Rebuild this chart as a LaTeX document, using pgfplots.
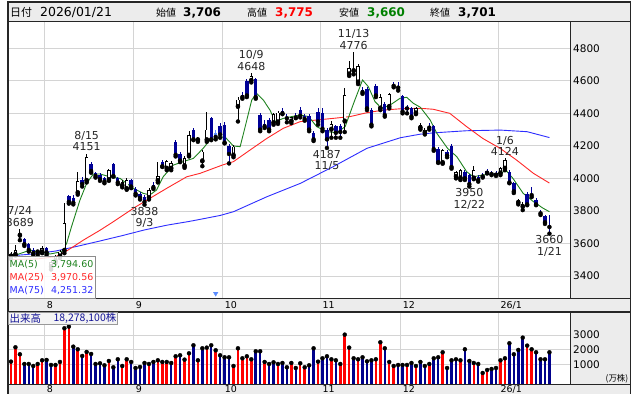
\documentclass[border=0pt]{standalone}
\usepackage{pgfplots}
\pgfplotsset{compat=1.18}
\usepackage{pgfplotstable}
\usepackage{fontspec}
\setmainfont{DejaVu Sans}
\newfontfamily\jp{Noto Sans CJK JP}
\definecolor{candleblue}{RGB}{0,0,150}
\definecolor{volnavy}{RGB}{0,0,140}
\definecolor{volred}{RGB}{255,0,0}
\definecolor{magreen}{RGB}{30,130,30}
\definecolor{mared}{RGB}{255,40,40}
\definecolor{mablue}{RGB}{45,45,255}
\definecolor{panelgrey}{RGB}{236,236,236}
\definecolor{gridgrey}{RGB}{212,212,212}
\definecolor{cursorblue}{RGB}{90,140,255}
\definecolor{voltext}{RGB}{20,20,150}
\newcommand\anfont{\fontsize{11}{11.5}\selectfont}

% i  body-low  body-high  low  high
\pgfplotstableread{
i bl bh l h
0 3520 3535 3505 3545
1 3530 3560 3525 3590
2 3648 3656 3620 3689
6 3545 3551 3530 3560
7 3545 3570 3540 3585
9 3455 3485 3440 3500
10 3490 3520 3480 3530
11 3520 3550 3510 3560
12 3555 3725 3540 3846
15 3910 3985 3900 4041
17 3985 4130 3975 4151
22 3990 4050 3985 4060
25 3955 3975 3945 3990
26 3935 3990 3930 4000
31 3880 3930 3870 3940
33 3985 4015 3975 4100
35 4060 4105 4050 4115
36 4060 4095 4050 4105
39 4075 4125 4065 4135
40 4140 4265 4135 4290
42 4235 4245 4225 4255
43 4105 4165 4075 4175
44 4235 4300 4225 4410
50 4140 4195 4130 4205
51 4440 4485 4350 4500
54 4600 4630 4590 4648
59 4340 4395 4330 4405
60 4345 4405 4335 4415
63 4350 4375 4340 4380
72 4300 4335 4250 4350
75 4350 4510 4285 4555
76 4640 4680 4630 4720
77 4660 4670 4640 4776
78 4590 4690 4580 4705
83 4430 4500 4420 4520
85 4440 4520 4430 4525
91 4400 4430 4395 4440
92 4310 4330 4300 4340
93 4280 4300 4270 4310
97 4095 4175 4090 4180
100 4010 4040 4000 4045
101 4000 4050 3990 4060
104 4000 4050 3995 4075
110 4030 4065 4020 4070
111 4060 4110 4050 4124
114 3850 3865 3840 3875
115 3825 3845 3805 3855
}\upc

\pgfplotstableread{
i bl bh l h
3 3595 3625 3585 3635
4 3560 3595 3550 3600
5 3540 3560 3530 3570
8 3545 3570 3530 3580
13 3855 3890 3845 3900
14 3850 3880 3840 3895
16 3965 3990 3950 4010
18 4045 4090 4035 4100
19 4015 4030 4005 4040
20 3995 4020 3985 4030
21 3980 4000 3970 4010
23 4015 4090 4010 4095
24 3975 4000 3965 4010
27 3950 3990 3940 3995
28 3905 3935 3895 3945
29 3880 3905 3870 3915
30 3855 3885 3838 3895
32 3945 3960 3935 3975
34 4075 4100 4070 4110
37 4145 4225 4135 4235
38 4110 4150 4100 4160
41 4240 4300 4235 4310
45 4240 4370 4235 4380
47 4270 4320 4250 4340
48 4220 4330 4215 4345
49 4150 4200 4092 4210
52 4500 4510 4490 4530
53 4510 4600 4500 4610
55 4500 4610 4490 4620
56 4300 4390 4290 4400
57 4320 4335 4310 4360
58 4300 4360 4290 4370
61 4400 4415 4395 4430
62 4370 4380 4345 4395
64 4375 4385 4370 4400
65 4385 4420 4375 4440
66 4365 4385 4355 4395
67 4300 4385 4290 4395
68 4240 4280 4230 4290
69 4350 4410 4330 4430
70 4305 4400 4290 4430
71 4240 4300 4187 4310
73 4280 4320 4250 4330
74 4285 4320 4250 4335
79 4530 4545 4520 4560
80 4430 4550 4420 4560
81 4330 4420 4320 4430
82 4510 4570 4500 4580
84 4390 4460 4380 4470
86 4569 4575 4560 4590
87 4558 4565 4540 4590
88 4410 4505 4400 4510
89 4430 4440 4400 4450
90 4380 4430 4370 4440
94 4312 4320 4300 4340
95 4180 4320 4170 4330
96 4100 4180 4095 4190
98 4140 4160 4130 4175
99 4070 4200 4060 4210
102 4000 4040 3990 4050
103 3965 4020 3950 4025
105 3990 4010 3980 4020
106 4012 4020 4005 4030
107 4035 4045 4030 4060
108 4027 4035 4020 4045
109 4023 4030 4015 4045
112 3975 4040 3970 4050
113 3920 3970 3910 3980
116 3840 3905 3835 3915
117 3897 3905 3885 3950
118 3840 3870 3835 3880
119 3785 3792 3775 3805
120 3730 3770 3720 3775
121 3701 3706 3660 3775
}\downc

\pgfplotstableread{
i bl bh l h
46 4255 4280 4240 4300
}\cursorc

\pgfplotstableread{
i v
0 1202
1 2169
2 1697
6 1045
7 1292
10 978
11 1180
12 3449
13 3562
15 2034
17 1854
22 1247
25 910
26 1360
31 1045
33 1292
34 1180
35 1180
37 1562
39 1337
40 1764
42 1292
44 2146
46 1966
50 910
51 2101
52 1427
53 1562
54 1360
57 1180
60 1045
63 1112
65 1090
66 820
69 1200
72 1360
74 1045
75 3022
76 2146
78 1360
82 1360
83 2506
85 1180
86 910
89 978
91 910
94 1045
97 1831
101 1292
104 1112
106 438
107 640
110 1292
111 1427
116 2281
117 2034
}\volred

\pgfplotstableread{
i v
3 1045
4 1045
5 910
8 1315
9 978
14 2213
16 1584
18 1719
19 1045
20 1090
21 955
23 820
24 1360
27 1180
28 775
29 843
30 1112
32 1180
36 1112
38 1629
41 2303
43 2101
45 2303
47 1629
48 1494
49 1494
55 1899
56 1899
58 1045
59 1157
61 1112
62 820
64 775
67 955
68 2101
70 1427
71 1562
73 1292
77 1427
79 1494
80 1225
81 1292
84 2101
87 978
88 978
90 1112
92 1180
93 910
95 1427
96 1494
98 775
99 1292
100 1360
102 2034
103 1247
105 1045
108 708
109 775
112 2438
113 1697
114 1989
115 2820
118 1831
119 1360
120 1360
121 1831
}\volnavy

\pgfplotsset{
  chartax/.style={
    scale only axis, width=562.7bp,
    xmin=-0.674, xmax=125.78,
    axis background/.style={fill=white},
    axis line style={draw=none},
    major tick length=0pt, tick style={draw=none},
    grid=major, major grid style={draw=gridgrey, line width=0.8bp},
    xtick={7.5,27.5,47.5,69.5,87.5,109.5}, xticklabels={},
    yticklabel pos=right,
    yticklabel style={font=\fontsize{10.5}{10.5}\selectfont, anchor=west, inner sep=0pt, xshift=2.3bp, text=black},
  },
  wick/.style={only marks, mark=none, forget plot,
    error bars/.cd, y dir=plus, y explicit, error mark=none,
    error bar style={draw=#1, line width=0.8bp}},
  body/.style={only marks, mark=none, forget plot,
    error bars/.cd, y dir=plus, y explicit, error mark=none,
    error bar style={draw=#1, line width=3.4bp}},
  inner/.style={only marks, mark=none, forget plot,
    error bars/.cd, y dir=plus, y explicit, error mark=none,
    error bar style={draw=white, line width=1.8bp}},
  volbar/.style={only marks, mark=none, forget plot,
    error bars/.cd, y dir=minus, y fixed=8000, error mark=none,
    error bar style={draw=#1, line width=2.5bp}},
}

\begin{document}
\begin{tikzpicture}
\path[use as bounding box] (0,0) rectangle (640bp,394bp);
\fill[white] (0,0) rectangle (640bp,394bp);
% grey panels
\fill[panelgrey] (8bp,372.7bp) rectangle (630.7bp,392bp);
\fill[panelgrey] (570.7bp,95.5bp) rectangle (630.7bp,372.7bp);
\fill[panelgrey] (8bp,82bp) rectangle (630.7bp,95.5bp);
\fill[panelgrey] (570.7bp,9.5bp) rectangle (630.7bp,82bp);
\fill[panelgrey] (8bp,0bp) rectangle (630.7bp,9.5bp);

% ---------------- price panel ----------------
\begin{axis}[chartax, at={(8bp,95.5bp)}, anchor=south west,
  height=277.2bp, ymin=3261.3, ymax=4966,
  ytick={3400,3600,3800,4000,4200,4400,4600,4800},
  yticklabels={3400,3600,3800,4000,4200,4400,4600,4800}]
% moving averages
\addplot[mablue, line width=0.9bp, forget plot] coordinates {
(-1,3522) (5,3535) (10,3553) (15,3583) (20,3615) (25,3648) (30,3683) (35,3712) (40,3735) (42.5,3748) (47,3772) (50,3795) (57.5,3887) (65,3969) (72.4,4072) (80,4185) (87.5,4250) (92,4272) (95,4280) (102.4,4293) (110,4297) (116,4287) (121,4251)};
\addplot[mared, line width=0.9bp, forget plot] coordinates {
(-1,3500) (6,3505) (10,3518) (12,3545) (14,3580) (16.3,3621) (20,3681) (22.8,3730) (27.5,3816) (31.2,3877) (35,3939) (39.5,4010) (42.5,4031) (47.5,4082) (50,4103) (53.7,4174) (57.5,4246) (61.2,4308) (65,4349) (68.7,4359) (72.4,4369) (76.2,4380) (80,4404) (83.7,4420) (87.5,4428) (92,4431) (94.9,4425) (98.6,4400) (102.4,4318) (106,4246) (109.9,4185) (113.6,4113) (117.4,4031) (121,3971)};
\addplot[magreen, line width=0.9bp, forget plot] coordinates {
(-1,3515) (0,3518) (4.3,3559) (8.8,3535) (11.4,3549) (12.5,3600) (13.6,3703) (15.5,3867) (17,3969) (18.5,4027) (20,4027) (22.2,4010) (24.5,4000) (26,3969) (27.5,3939) (29.7,3908) (31.2,3898) (32.7,3928) (34.2,4010) (36.5,4082) (38.7,4103) (41,4123) (43.2,4185) (44.7,4236) (46.2,4246) (48,4257) (50,4199) (51.5,4195) (53,4359) (54.1,4482) (55.2,4523) (56.7,4482) (58.2,4420) (59.4,4349) (61.2,4369) (63.1,4380) (65,4390) (66.9,4380) (68.7,4318) (71,4287) (73.2,4281) (75.1,4318) (77,4462) (79,4605) (80.3,4564) (81.8,4472) (83.3,4431) (85.2,4451) (87.4,4492) (88.9,4499) (90.4,4462) (92,4437) (94.2,4359) (95.7,4277) (98.1,4185) (100.2,4133) (102.4,4041) (103.9,4010) (106.1,4021) (108.3,4027) (109.8,4031) (111.3,4047) (112.8,4000) (115.1,3908) (117.4,3857) (119.6,3816) (121,3795)};
% candles: up (white body, black outline)
\addplot[wick=black] table[x=i, y=l, y error expr=\thisrow{h}-\thisrow{l}] {\upc};
\addplot[body=black] table[x=i, y=bl, y error expr=\thisrow{bh}-\thisrow{bl}] {\upc};
\addplot[inner] table[x=i, y expr=\thisrow{bl}+5, y error expr=\thisrow{bh}-\thisrow{bl}-10] {\upc};
% candles: down (navy)
\addplot[wick=candleblue] table[x=i, y=l, y error expr=\thisrow{h}-\thisrow{l}] {\downc};
\addplot[body=candleblue] table[x=i, y=bl, y error expr=\thisrow{bh}-\thisrow{bl}] {\downc};
\addplot[wick=cursorblue] table[x=i, y=l, y error expr=\thisrow{h}-\thisrow{l}] {\cursorc};
\addplot[body=cursorblue] table[x=i, y=bl, y error expr=\thisrow{bh}-\thisrow{bl}] {\cursorc};
% cursor marker
\addplot[only marks, mark=triangle*, mark size=2.6bp, mark options={rotate=180, fill=cursorblue, draw=cursorblue}, forget plot] coordinates {(46,3292)};
% annotations
\begin{scope}[every node/.style={font=\anfont, align=center, inner sep=0pt, text=black!85}]
\node[anchor=south, yshift=2.5bp] at (axis cs:2,3689) {7/24\\3689};
\node[anchor=south, yshift=2.5bp] at (axis cs:17,4151) {8/15\\4151};
\node[anchor=north, yshift=-2bp] at (axis cs:30,3838) {3838\\9/3};
\node[anchor=south, yshift=2.5bp] at (axis cs:54,4648) {10/9\\4648};
\node[anchor=north, yshift=-2bp] at (axis cs:71,4187) {4187\\11/5};
\node[anchor=south, yshift=2.5bp] at (axis cs:77,4776) {11/13\\4776};
\node[anchor=north, yshift=-2bp] at (axis cs:103,3950) {3950\\12/22};
\node[anchor=south, yshift=2.5bp] at (axis cs:111,4124) {1/6\\4124};
\node[anchor=north, yshift=-2bp] at (axis cs:121,3660) {3660\\1/21};
\end{scope}
\end{axis}

% ---------------- volume panel ----------------
\begin{axis}[chartax, at={(8bp,9.5bp)}, anchor=south west,
  height=72.5bp, ymin=-337, ymax=4545,
  ytick={1000,2000,3000}, yticklabels={1000,2000,3000}]
\addplot[volbar=volred] table[x=i, y=v] {\volred};
\addplot[volbar=volnavy] table[x=i, y=v] {\volnavy};
\end{axis}

% ---------------- frames ----------------
\draw[black!85, line width=1.1bp] (8bp,0) -- (8bp,392bp) -- (630.7bp,392bp) -- (630.7bp,0);
\foreach \yy in {372.7,95.5,82,9.5} \draw[black!85, line width=1.1bp] (8bp,\yy bp) -- (630.7bp,\yy bp);
\draw[black!85, line width=1.1bp] (570.7bp,95.5bp) -- (570.7bp,372.7bp);
\draw[black!85, line width=1.1bp] (570.7bp,9.5bp) -- (570.7bp,82bp);

% month labels
\foreach \xx/\lab in {46.6/{8},135.6/{9},224.6/{10},322.5/{11},402.6/{12},500.5/{26/1}} {
  \node[font=\fontsize{9.5}{9.5}\selectfont, anchor=west, inner sep=0pt] at (\xx bp,89bp) {\lab};
  \node[font=\fontsize{9.5}{9.5}\selectfont, anchor=west, inner sep=0pt] at (\xx bp,4.6bp) {\lab};
}

% legend box
\fill[white, fill opacity=0.85] (8.6bp,95.9bp) rectangle (95bp,137.3bp);
\draw[black!45, line width=0.7bp] (8.6bp,95.9bp) rectangle (95bp,137.3bp);
\begin{scope}[every node/.style={font=\fontsize{9.5}{9.5}\selectfont, inner sep=0pt}]
\node[anchor=west, text=magreen] at (9.5bp,129.5bp) {MA(5)};
\node[anchor=east, text=magreen] at (93.5bp,129.5bp) {3,794.60};
\node[anchor=west, text=mared] at (9.5bp,116.5bp) {MA(25)};
\node[anchor=east, text=mared] at (93.5bp,116.5bp) {3,970.56};
\node[anchor=west, text=mablue] at (9.5bp,103.2bp) {MA(75)};
\node[anchor=east, text=mablue] at (93.5bp,103.2bp) {4,251.32};
\end{scope}

% volume label
\fill[panelgrey!60] (8.6bp,70bp) rectangle (117bp,81.4bp);
\draw[black!40, line width=0.6bp] (8.6bp,70bp) rectangle (117bp,81.4bp);
\node[font=\jp\fontsize{10.5}{10.5}\selectfont, anchor=west, inner sep=0pt, text=voltext] at (9.5bp,75.8bp) {出来高};
\node[font=\jp\fontsize{10.5}{10.5}\selectfont, anchor=east, inner sep=0pt, text=voltext] at (116.5bp,75.8bp) {18,278,100株};
\node[font=\jp\fontsize{8.5}{8.5}\selectfont, anchor=east, inner sep=0pt] at (628.5bp,15.5bp) {(万株)};

% header
\begin{scope}[every node/.style={inner sep=0pt, anchor=base west}]
\node[font=\jp\fontsize{11}{11}\selectfont] at (10bp,377.5bp) {日付};
\node[font=\fontsize{12.5}{12.5}\selectfont] at (40bp,377.5bp) {2026/01/21};
\node[font=\jp\fontsize{10}{10}\selectfont] at (156bp,377.5bp) {始値};
\node[font=\bfseries\fontsize{12}{12}\selectfont] at (183bp,377.5bp) {3,706};
\node[font=\jp\fontsize{10}{10}\selectfont] at (247bp,377.5bp) {高値};
\node[font=\bfseries\fontsize{12}{12}\selectfont, text=red] at (275bp,377.5bp) {3,775};
\node[font=\jp\fontsize{10}{10}\selectfont] at (339bp,377.5bp) {安値};
\node[font=\bfseries\fontsize{12}{12}\selectfont, text=green!50!black] at (367bp,377.5bp) {3,660};
\node[font=\jp\fontsize{10}{10}\selectfont] at (430bp,377.5bp) {終値};
\node[font=\bfseries\fontsize{12}{12}\selectfont] at (458bp,377.5bp) {3,701};
\end{scope}
\end{tikzpicture}
\end{document}
